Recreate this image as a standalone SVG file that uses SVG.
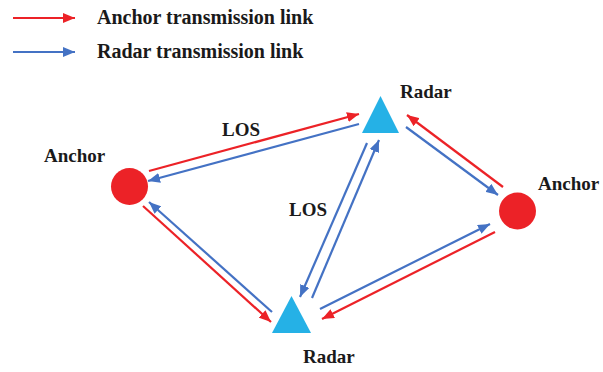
<svg xmlns="http://www.w3.org/2000/svg" width="603" height="372" viewBox="0 0 603 372">
<style>
text{font-weight:bold;fill:#1a1a1a}
.lg{font-size:20px}
.lb{font-size:19px}
.r{stroke:#EC2227;stroke-width:2.2;fill:none}
.b{stroke:#4472C4;stroke-width:2.2;fill:none}
.anc{fill:#EC2227}
.rad{fill:#25B1E6}
</style>
<defs>
<marker id="ar" viewBox="0 0 12 10" refX="12" refY="5" markerWidth="12" markerHeight="10" markerUnits="userSpaceOnUse" orient="auto"><path d="M0,0 L12,5 L0,10 Z" fill="#EC2227"/></marker>
<marker id="ab" viewBox="0 0 12 10" refX="12" refY="5" markerWidth="12" markerHeight="10" markerUnits="userSpaceOnUse" orient="auto"><path d="M0,0 L12,5 L0,10 Z" fill="#4472C4"/></marker>
</defs>
<g font-family="'Liberation Serif', 'DejaVu Serif', serif">
<g id="legend">
<line class="r" x1="13" y1="18" x2="75" y2="18" marker-end="url(#ar)"/>
<text class="lg" x="97" y="24">Anchor transmission link</text>
<line class="b" x1="13" y1="52" x2="75" y2="52" marker-end="url(#ab)"/>
<text class="lg" x="97" y="58">Radar transmission link</text>
</g>
<g id="connectors">
<line class="r" x1="149" y1="171" x2="359" y2="114" marker-end="url(#ar)"/>
<line class="b" x1="359" y1="124" x2="148" y2="181" marker-end="url(#ab)"/>
<line class="r" x1="503" y1="187" x2="407" y2="115" marker-end="url(#ar)"/>
<line class="b" x1="406" y1="127" x2="498" y2="195" marker-end="url(#ab)"/>
<line class="b" x1="320" y1="309" x2="490" y2="224" marker-end="url(#ab)"/>
<line class="r" x1="495" y1="232" x2="322" y2="319" marker-end="url(#ar)"/>
<line class="b" x1="367" y1="143" x2="300" y2="297" marker-end="url(#ab)"/>
<line class="b" x1="312" y1="298" x2="379" y2="140" marker-end="url(#ab)"/>
<line class="r" x1="143" y1="206" x2="271" y2="322" marker-end="url(#ar)"/>
<line class="b" x1="272" y1="312" x2="149" y2="202" marker-end="url(#ab)"/>
</g>
<g id="anchor-left">
<circle class="anc" cx="129.5" cy="186.5" r="18.5"/>
<text class="lb" x="44" y="162">Anchor</text>
</g>
<g id="radar-top">
<polygon class="rad" points="362,133 399,133 380.5,96"/>
<text class="lb" x="400" y="98">Radar</text>
</g>
<g id="anchor-right">
<circle class="anc" cx="517.5" cy="211" r="18.5"/>
<text class="lb" x="538" y="190">Anchor</text>
</g>
<g id="radar-bottom">
<polygon class="rad" points="272,333 311,333 291.5,296"/>
<text class="lb" x="303" y="363">Radar</text>
</g>
<g id="labels">
<text class="lb" x="222" y="136">LOS</text>
<text class="lb" x="289" y="216">LOS</text>
</g>
</g>
</svg>
